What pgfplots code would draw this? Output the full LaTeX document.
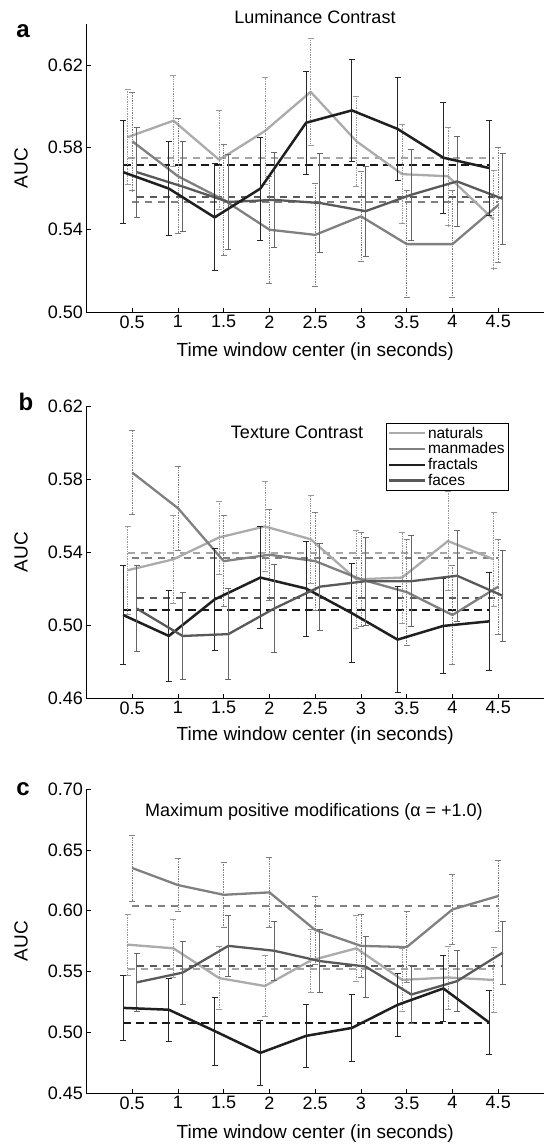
\documentclass[border=0pt]{standalone}
\usepackage{fontspec}
\setmainfont{Liberation Sans}
\usepackage{pgfplots}
\pgfplotsset{compat=1.18}

\pgfplotsset{
  panel/.style={
    scale only axis, width=457.5pt,
    axis lines*=left, xmin=0, xmax=5,
    xtick={0.5,1,1.5,2,2.5,3,3.5,4,4.5},
    tick align=inside, major tick length=4.5pt,
    tick style={black, line width=0.6pt},
    axis line style={black, line width=0.8pt},
    tick label style={font=\fontsize{18}{20}\selectfont},
    /pgf/number format/assume math mode=true,
    yticklabel style={/pgf/number format/.cd, fixed, fixed zerofill, precision=2},
    xticklabel style={/pgf/number format/.cd, fixed},
    xlabel={Time window center (in seconds)},
    ylabel={AUC},
    label style={font=\fontsize{19}{21}\selectfont},
    clip=false,
  },
  nat/.style={draw=black!33, line width=2.3pt, line join=round, mark=none,
    error bars/.cd, y dir=both, y explicit,
    error bar style={black!40, line width=0.7pt, densely dotted},
    error mark options={rotate=90, mark size=3pt, black!40, line width=0.7pt, solid}},
  man/.style={draw=black!50, line width=2.3pt, line join=round, mark=none,
    error bars/.cd, y dir=both, y explicit,
    error bar style={black!50, line width=0.7pt, densely dotted},
    error mark options={rotate=90, mark size=3pt, black!50, line width=0.7pt, solid}},
  fra/.style={draw=black!88, line width=2.5pt, line join=round, mark=none,
    error bars/.cd, y dir=both, y explicit,
    error bar style={black!85, line width=0.8pt},
    error mark options={rotate=90, mark size=3pt, black!85, line width=0.8pt}},
  fac/.style={draw=black!65, line width=2.3pt, line join=round, mark=none,
    error bars/.cd, y dir=both, y explicit,
    error bar style={black!60, line width=0.7pt},
    error mark options={rotate=90, mark size=3pt, black!60, line width=0.7pt}},
  mnat/.style={black!35, line width=1.9pt, dash pattern=on 7pt off 6pt, forget plot},
  mman/.style={black!50, line width=1.9pt, dash pattern=on 7pt off 6pt, forget plot},
  mfra/.style={black!90, line width=2.1pt, dash pattern=on 8pt off 5pt, forget plot},
  mfac/.style={black!65, line width=1.9pt, dash pattern=on 7pt off 6pt, forget plot},
}

\begin{document}
\begin{tikzpicture}
\useasboundingbox (0pt,0pt) rectangle (544pt,-1144pt);

% ---------------- Panel a ----------------
\begin{axis}[panel, at={(86.5pt,-312pt)}, anchor=south west, height=288pt,
  ymin=0.50, ymax=0.64, ytick={0.50,0.54,0.58,0.62},
  xlabel style={at={(axis description cs:0.5,-0.139)}, anchor=center},
  ylabel style={at={(axis description cs:-0.143,0.5)}, anchor=center}]
\addplot[mnat] coordinates {(0.45,0.575) (4.45,0.575)};
\addplot[mman] coordinates {(0.5,0.5535) (4.5,0.5535)};
\addplot[mfac] coordinates {(0.55,0.556) (4.55,0.556)};
\addplot[mfra] coordinates {(0.4,0.5715) (4.4,0.5715)};
\addplot[nat] table[x=x,y=y,y error=e] {
x y e
0.45 0.585 0.023
0.95 0.593 0.022
1.45 0.574 0.024
1.95 0.588 0.026
2.45 0.607 0.026
2.95 0.583 0.022
3.45 0.567 0.024
3.95 0.566 0.024
4.45 0.545 0.024
};
\addplot[man] table[x=x,y=y,y error=e] {
x y e
0.5 0.583 0.024
1.0 0.566 0.028
1.5 0.5545 0.027
2.0 0.540 0.026
2.5 0.5375 0.025
3.0 0.5465 0.022
3.5 0.533 0.026
4.0 0.533 0.026
4.5 0.552 0.028
};
\addplot[fac] table[x=x,y=y,y error=e] {
x y e
0.55 0.568 0.022
1.05 0.561 0.022
1.55 0.5535 0.023
2.05 0.5545 0.023
2.55 0.553 0.024
3.05 0.549 0.022
3.55 0.557 0.022
4.05 0.5635 0.022
4.55 0.555 0.022
};
\addplot[fra] table[x=x,y=y,y error=e] {
x y e
0.4 0.568 0.025
0.9 0.560 0.023
1.4 0.546 0.026
1.9 0.560 0.025
2.4 0.592 0.025
2.9 0.598 0.025
3.4 0.589 0.025
3.9 0.575 0.027
4.4 0.570 0.023
};
\end{axis}

% ---------------- Panel b ----------------
\begin{axis}[panel, at={(86.5pt,-698pt)}, anchor=south west, height=292pt,
  ymin=0.46, ymax=0.62, ytick={0.46,0.50,0.54,0.58,0.62},
  xlabel style={at={(axis description cs:0.5,-0.127)}, anchor=center},
  ylabel style={at={(axis description cs:-0.143,0.5)}, anchor=center},
  legend style={at={(axis cs:3.27,0.6107)}, anchor=north west, draw=black,
    line width=0.8pt, font=\fontsize{15.5}{15.5}\selectfont, inner sep=1.5pt,
    row sep=-1pt, cells={anchor=west}},
  legend image code/.code={\draw[#1, line width=2.4pt] (0pt,0pt) -- (36pt,0pt);}]
\addplot[mnat] coordinates {(0.45,0.5395) (4.45,0.5395)};
\addplot[mman] coordinates {(0.5,0.5368) (4.5,0.5368)};
\addplot[mfac] coordinates {(0.55,0.5147) (4.55,0.5147)};
\addplot[mfra] coordinates {(0.4,0.508) (4.4,0.508)};
\addplot[nat] table[x=x,y=y,y error=e] {
x y e
0.45 0.530 0.024
0.95 0.536 0.024
1.45 0.548 0.020
1.95 0.554 0.0245
2.45 0.547 0.024
2.95 0.525 0.027
3.45 0.526 0.025
3.95 0.546 0.027
4.45 0.536 0.026
};
\addlegendentry{naturals}
\addplot[man] table[x=x,y=y,y error=e] {
x y e
0.5 0.5835 0.023
1.0 0.564 0.023
1.5 0.535 0.025
2.0 0.5385 0.025
2.5 0.535 0.027
3.0 0.525 0.026
3.5 0.518 0.029
4.0 0.5055 0.027
4.5 0.521 0.026
};
\addlegendentry{manmades}
\addplot[fra] table[x=x,y=y,y error=e] {
x y e
0.4 0.5055 0.027
0.9 0.494 0.025
1.4 0.514 0.028
1.9 0.526 0.028
2.4 0.520 0.026
2.9 0.5065 0.027
3.4 0.492 0.029
3.9 0.4995 0.026
4.4 0.502 0.027
};
\addlegendentry{fractals}
\addplot[fac] table[x=x,y=y,y error=e] {
x y e
0.55 0.509 0.0235
1.05 0.494 0.024
1.55 0.495 0.025
2.05 0.509 0.024
2.55 0.521 0.024
3.05 0.524 0.024
3.55 0.524 0.025
4.05 0.527 0.025
4.55 0.516 0.025
};
\addlegendentry{faces}
\end{axis}

% ---------------- Panel c ----------------
\begin{axis}[panel, at={(86.5pt,-1093pt)}, anchor=south west, height=304pt,
  ymin=0.45, ymax=0.70, ytick={0.45,0.50,0.55,0.60,0.65,0.70},
  xlabel style={at={(axis description cs:0.5,-0.132)}, anchor=center},
  ylabel style={at={(axis description cs:-0.143,0.5)}, anchor=center}]
\addplot[mnat] coordinates {(0.45,0.552) (4.45,0.552)};
\addplot[mman] coordinates {(0.5,0.604) (4.5,0.604)};
\addplot[mfac] coordinates {(0.55,0.5547) (4.55,0.5547)};
\addplot[mfra] coordinates {(0.4,0.5075) (4.4,0.5075)};
\addplot[nat] table[x=x,y=y,y error=e] {
x y e
0.45 0.572 0.025
0.95 0.569 0.024
1.45 0.5445 0.026
1.95 0.538 0.025
2.45 0.559 0.026
2.95 0.569 0.027
3.45 0.543 0.026
3.95 0.545 0.026
4.45 0.543 0.027
};
\addplot[man] table[x=x,y=y,y error=e] {
x y e
0.5 0.635 0.027
1.0 0.621 0.022
1.5 0.613 0.027
2.0 0.615 0.029
2.5 0.584 0.028
3.0 0.571 0.026
3.5 0.570 0.029
4.0 0.601 0.029
4.5 0.612 0.029
};
\addplot[fac] table[x=x,y=y,y error=e] {
x y e
0.55 0.541 0.024
1.05 0.549 0.026
1.55 0.571 0.025
2.05 0.567 0.024
2.55 0.5585 0.026
3.05 0.554 0.025
3.55 0.531 0.024
4.05 0.542 0.025
4.55 0.5655 0.026
};
\addplot[fra] table[x=x,y=y,y error=e] {
x y e
0.4 0.520 0.027
0.9 0.5185 0.026
1.4 0.501 0.028
1.9 0.483 0.027
2.4 0.497 0.026
2.9 0.5035 0.0275
3.4 0.5225 0.026
3.9 0.536 0.027
4.4 0.508 0.026
};
\end{axis}

% titles and panel letters
\node[font=\fontsize{18}{20}\selectfont] at (315pt,-17pt) {Luminance Contrast};
\node[font=\fontsize{18}{20}\selectfont] at (297pt,-432pt) {Texture Contrast};
\node[font=\fontsize{18}{20}\selectfont] at (314pt,-812pt) {Maximum positive modifications (α = +1.0)};
\node[font=\fontsize{24}{26}\bfseries] at (23pt,-31pt) {a};
\node[font=\fontsize{24}{26}\bfseries] at (26pt,-402pt) {b};
\node[font=\fontsize{24}{26}\bfseries] at (23pt,-789pt) {c};
\end{tikzpicture}
\end{document}
